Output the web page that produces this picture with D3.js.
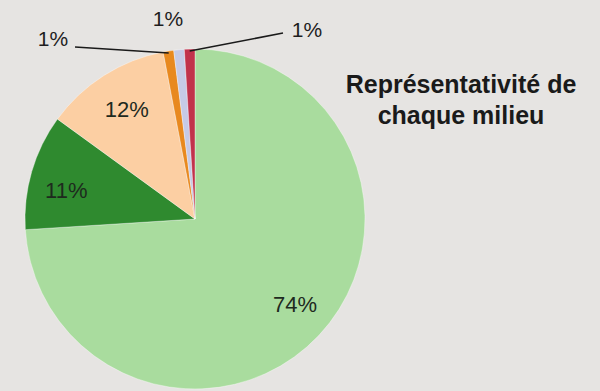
<!DOCTYPE html>
<html>
<head>
<meta charset="utf-8">
<script src="https://cdn.jsdelivr.net/npm/d3@7"></script>
<style>
  html, body { margin: 0; padding: 0; background: #e6e4e2; }
  svg { display: block; }
</style>
</head>
<body>
<svg id="chart" width="600" height="391"></svg>
<script>
// Share of each environment (%), clockwise from 12 o'clock
const milieux = ["A", "B", "C", "D", "E", "F"];
const parts = [74, 11, 12, 1, 1, 1];
const labels = ["74%", "11%", "12%", "1%", "1%", "1%"];
const colours = ["#a9dc9e", "#2f8a2f", "#fccfa3", "#e8891f", "#c6cae6", "#c1324b"];
const titleLines = ["Représentativité de", "chaque milieu"];

const W = 600, H = 391;
const cx = 195, cy = 219, R = 170;

const svg = d3.select("#chart");
svg.append("rect").attr("width", W).attr("height", H).attr("fill", "#e6e4e2");

const pie = d3.pie().sort(null).value(d => d).startAngle(0).endAngle(2 * Math.PI);
const arcs = pie(parts);
const arc = d3.arc().innerRadius(0).outerRadius(R);

const g = svg.append("g").attr("transform", `translate(${cx},${cy})`);

g.selectAll("path.slice")
  .data(arcs)
  .join("path")
  .attr("class", "slice")
  .attr("d", arc)
  .attr("fill", (d, i) => colours[i])
  .attr("stroke", "rgba(255,255,255,0.45)")
  .attr("stroke-width", 0.8);

// Inside labels for the large slices, with small nudges for readability
const labelArc = d3.arc().innerRadius(133).outerRadius(133);
const nudge = { 0: [3, -6], 1: [-1, 8], 2: [3, 3] };
const inside = arcs.filter(d => d.value >= 5);
g.selectAll("text.inside")
  .data(inside)
  .join("text")
  .attr("class", "inside")
  .attr("x", d => labelArc.centroid(d)[0] + nudge[d.index][0])
  .attr("y", d => labelArc.centroid(d)[1] + nudge[d.index][1])
  .attr("dy", "0.35em")
  .attr("text-anchor", "middle")
  .attr("font-family", "Liberation Sans, Arial, sans-serif")
  .attr("font-size", 22)
  .attr("fill", "#1e2a1e")
  .text(d => labels[d.index]);

// Outside labels for the thin slices
const outsideLayout = {
  3: { lx: -142, ly: -180, line: true, endX: -120, endY: -172 },
  4: { lx: -27, ly: -200, line: false },
  5: { lx: 112, ly: -189, line: true, endX: 88, endY: -186 }
};
const edgeArc = d3.arc().innerRadius(R - 2).outerRadius(R - 2);

arcs.filter(d => d.value < 5).forEach(d => {
  const o = outsideLayout[d.index];
  if (o.line) {
    const p = edgeArc.centroid(d);
    g.append("line")
      .attr("x1", p[0]).attr("y1", p[1])
      .attr("x2", o.endX).attr("y2", o.endY)
      .attr("stroke", "#1a1a1a")
      .attr("stroke-width", 1.6);
  }
  g.append("text")
    .attr("x", o.lx).attr("y", o.ly)
    .attr("dy", "0.35em")
    .attr("text-anchor", "middle")
    .attr("font-family", "Liberation Sans, Arial, sans-serif")
    .attr("font-size", 21)
    .attr("fill", "#1e1e1e")
    .text(labels[d.index]);
});

// Title
svg.append("text")
  .attr("x", 461)
  .attr("y", 93)
  .attr("text-anchor", "middle")
  .attr("font-family", "Liberation Sans, Arial, sans-serif")
  .attr("font-weight", "bold")
  .attr("font-size", 25)
  .attr("fill", "#1a1a1a")
  .selectAll("tspan")
  .data(titleLines)
  .join("tspan")
  .attr("x", 461)
  .attr("dy", (d, i) => i === 0 ? 0 : 31)
  .text(d => d);
</script>
</body>
</html>
